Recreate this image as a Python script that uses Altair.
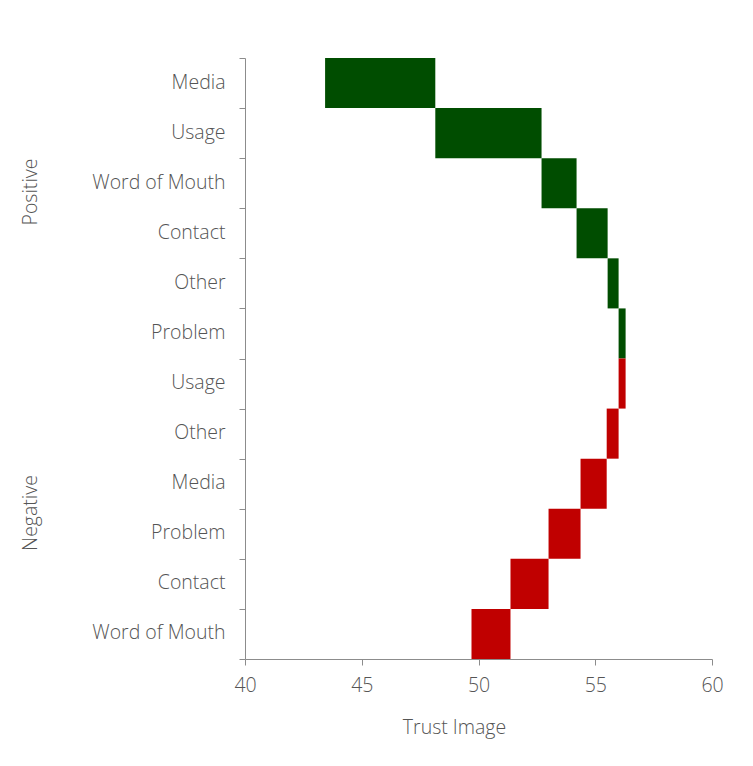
import altair as alt
import pandas as pd

groups = ["Positive"] * 6 + ["Negative"] * 6
categories = ["Media", "Usage", "Word of Mouth", "Contact", "Other", "Problem",
              "Usage", "Other", "Media", "Problem", "Contact", "Word of Mouth"]
starts = [43.43, 48.15, 52.70, 54.20, 55.53, 56.00,
          56.30, 56.00, 55.49, 54.37, 53.00, 51.37]
ends = [48.15, 52.70, 54.20, 55.53, 56.00, 56.30,
        56.00, 55.49, 54.37, 53.00, 51.37, 49.70]
x_ticks = [40, 45, 50, 55, 60]

df = pd.DataFrame({
    "group": groups,
    "category": categories,
    "start": starts,
    "end": ends,
})
df["key"] = df["group"] + "|" + df["category"]
order = list(df["key"])

FONT = "Open Sans"
WEIGHT = 300
SIZE = 19.5
TEXT = "#555555"
AXIS = "#8c8c8c"

bars = alt.Chart(df).mark_bar().encode(
    y=alt.Y(
        "key:N",
        sort=order,
        scale=alt.Scale(paddingInner=0, paddingOuter=0),
        axis=alt.Axis(
            title=None,
            labelExpr="split(datum.label, '|')[1]",
            tickBand="extent",
            tickSize=6,
            tickColor=AXIS,
            domainColor=AXIS,
            labelPadding=14,
            labelOffset=-1,
            labelFont=FONT,
            labelFontSize=SIZE,
            labelFontWeight=WEIGHT,
            labelColor=TEXT,
            labelLimit=300,
        ),
    ),
    x=alt.X(
        "start:Q",
        scale=alt.Scale(domain=[40, 60], nice=False, zero=False),
        axis=alt.Axis(
            title="Trust Image",
            values=x_ticks,
            grid=False,
            tickSize=6,
            tickColor=AXIS,
            domainColor=AXIS,
            labelFlush=False,
            labelBaseline="alphabetic",
            labelPadding=26,
            labelFont=FONT,
            labelFontSize=SIZE,
            labelFontWeight=WEIGHT,
            labelColor=TEXT,
            titleFont=FONT,
            titleFontSize=SIZE,
            titleFontWeight=WEIGHT,
            titleColor=TEXT,
            titleBaseline="alphabetic",
            titleX=209,
            titleY=74,
        ),
    ),
    x2="end:Q",
    color=alt.Color(
        "group:N",
        scale=alt.Scale(domain=["Positive", "Negative"], range=["#004d00", "#c00000"]),
        legend=None,
    ),
)

pos_label = alt.Chart(pd.DataFrame({"group": ["Positive"]})).mark_text(
    angle=270, align="center", baseline="middle", font=FONT, fontSize=SIZE,
    fontWeight=WEIGHT, color=TEXT
).encode(text="group:N", x=alt.value(-214), y=alt.value(134))

neg_label = alt.Chart(pd.DataFrame({"group": ["Negative"]})).mark_text(
    angle=270, align="center", baseline="middle", font=FONT, fontSize=SIZE,
    fontWeight=WEIGHT, color=TEXT
).encode(text="group:N", x=alt.value(-214), y=alt.value(455))

chart = alt.layer(bars, pos_label, neg_label).properties(
    width=467,
    height=601,
    autosize=alt.AutoSizeParams(type="none"),
    padding={"left": 237, "top": 50, "right": 33, "bottom": 99},
).configure_view(stroke=None)

chart.save("out.html", embed_options={"renderer": "svg", "actions": False})
